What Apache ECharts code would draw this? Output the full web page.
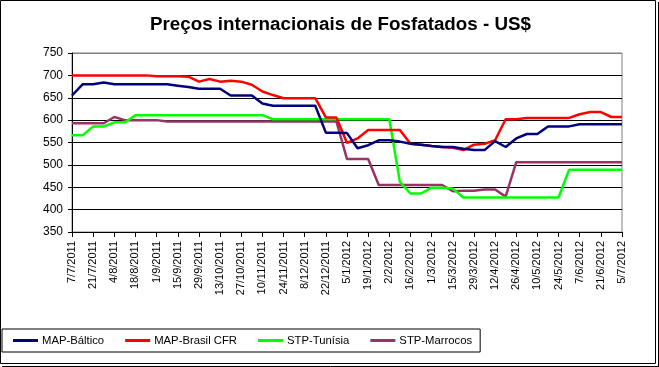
<!DOCTYPE html>
<html>
<head>
<meta charset="utf-8">
<script src="https://cdn.jsdelivr.net/npm/echarts@6/dist/echarts.min.js"></script>
<style>
html,body{margin:0;padding:0;background:#fff;}
#chart{width:659px;height:367px;}
</style>
</head>
<body>
<div id="chart"></div>
<script>
const categories = [
 '7/7/2011','14/7/2011','21/7/2011','28/7/2011','4/8/2011','11/8/2011','18/8/2011','25/8/2011',
 '1/9/2011','8/9/2011','15/9/2011','22/9/2011','29/9/2011','6/10/2011','13/10/2011','20/10/2011',
 '27/10/2011','3/11/2011','10/11/2011','17/11/2011','24/11/2011','1/12/2011','8/12/2011','15/12/2011',
 '22/12/2011','29/12/2011','5/1/2012','12/1/2012','19/1/2012','26/1/2012','2/2/2012','9/2/2012',
 '16/2/2012','23/2/2012','1/3/2012','8/3/2012','15/3/2012','22/3/2012','29/3/2012','5/4/2012',
 '12/4/2012','19/4/2012','26/4/2012','3/5/2012','10/5/2012','17/5/2012','24/5/2012','31/5/2012',
 '7/6/2012','14/6/2012','21/6/2012','28/6/2012','5/7/2012'
];
const mapBaltico = [655,680,680,684,680,680,680,680,680,680,
 677,674,670,670,670,655,655,655,637,632,
 632,632,632,632,572,572,571,537,544,555,
 555,552,547,545,542,540,540,536,533,533,
 553,540,559,569,569,586,586,586,591,591,
 591,591,591];
const mapBrasil = [700,700,700,700,700,700,700,700,698,698,
 698,697,686,692,686,688,686,679,664,656,
 649,649,649,649,606,606,549,559,578,578,
 578,578,547,545,542,540,538,533,545,547,
 555,602,602,605,605,605,605,605,613,618,
 618,607,607];
const stpTunisia = [566,566,586,586,595,595,611,611,611,611,
 611,611,611,611,611,611,611,611,611,602,
 602,602,602,602,602,602,602,602,602,602,
 602,462,436,436,449,449,447,427,427,427,
 427,427,427,427,427,427,427,489,489,489,
 489,489,489];
const stpMarrocos = [593,593,593,593,607,600,600,600,600,597,
 597,597,597,597,597,597,597,597,597,597,
 597,597,597,597,597,597,513,513,513,455,
 455,455,455,455,455,455,441,442,442,445,
 445,429,506,506,506,506,506,506,506,506,
 506,506,506];
const seriesNames = ['MAP-Báltico','MAP-Brasil CFR','STP-Tunísia','STP-Marrocos'];
const seriesColors = ['#000080','#ff0000','#00ff00','#993366'];
const seriesData = [mapBaltico, mapBrasil, stpTunisia, stpMarrocos];

const chart = echarts.init(document.getElementById('chart'), null, {renderer:'canvas'});
const font = '"Liberation Sans", Arial, sans-serif';
chart.setOption({
  animation:false,
  backgroundColor:'#fff',
  textStyle:{fontFamily:font},
  title:{
    text:'Preços internacionais de Fosfatados - US$',
    left:145, top:10,
    textStyle:{fontSize:18.8,fontWeight:'bold',color:'#000',fontFamily:font}
  },
  legend:{
    left:2, top:329,
    orient:'horizontal',
    padding:[6,8,6,11],
    borderColor:'#000', borderWidth:1,
    itemWidth:25, itemHeight:3, itemGap:21,
    icon:'rect',
    textStyle:{fontSize:11.3,color:'#000',fontFamily:font,padding:[0,0,0,-1]},
    data:seriesNames
  },
  grid:{left:72, top:53, right:37, bottom:135, show:true, borderColor:'#808080', borderWidth:1},
  xAxis:{
    type:'category', data:categories, boundaryGap:false,
    axisLine:{lineStyle:{color:'#000',width:1}},
    axisTick:{interval:1, length:5, lineStyle:{color:'#000'}},
    axisLabel:{interval:1, rotate:90, fontSize:11, color:'#000', margin:9, fontFamily:font},
    splitLine:{show:false}
  },
  yAxis:{
    type:'value', min:350, max:750, interval:50,
    axisLine:{show:true, lineStyle:{color:'#000'}},
    axisTick:{show:true, length:4, lineStyle:{color:'#000'}},
    axisLabel:{fontSize:12, color:'#000', margin:9, fontFamily:font},
    splitLine:{lineStyle:{color:['#000','#000','#000','#000','#000','#000','#000','#000','#808080'],width:1}}
  },
  series: seriesNames.map((n,i)=>({
    name:n, type:'line', data:seriesData[i], symbol:'none',
    lineStyle:{color:seriesColors[i], width:2.5},
    itemStyle:{color:seriesColors[i]},
    z: 10 - i
  })),
  graphic:[
    {type:'rect', shape:{x:0.5,y:0.5,width:655,height:363}, style:{fill:'none',stroke:'#000',lineWidth:1}, silent:true},
    {type:'line', shape:{x1:658.5,y1:2,x2:658.5,y2:367}, style:{stroke:'#000',lineWidth:1}, silent:true},
    {type:'line', shape:{x1:2,y1:366.5,x2:659,y2:366.5}, style:{stroke:'#000',lineWidth:1}, silent:true}
  ]
});
</script>
</body>
</html>
